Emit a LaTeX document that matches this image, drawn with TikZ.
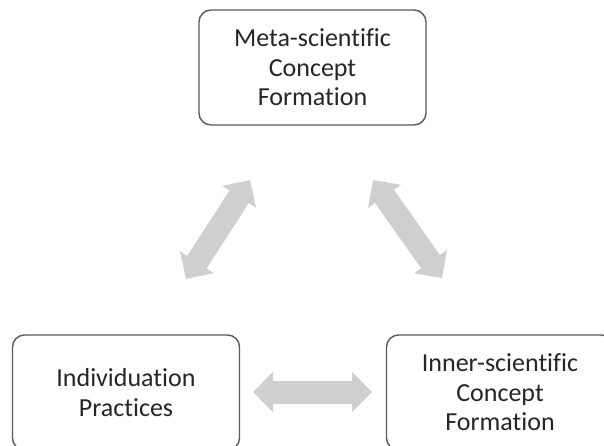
\documentclass[tikz,border=0pt]{standalone}
\usepackage{fontspec}
\setmainfont[Ligatures=NoCommon]{Carlito}
\usepackage{tikz}
\usetikzlibrary{arrows.meta}
\definecolor{boxline}{HTML}{595959}
\definecolor{boxtext}{HTML}{262626}
\definecolor{arrowgray}{HTML}{D0CECE}
\tikzset{
    box/.style={draw=boxline,line width=1.4pt,rounded corners=12pt,fill=white,
        minimum width=227pt,minimum height=115pt,align=center,text=boxtext,
        font=\fontsize{26}{29.5}\selectfont},
    twoway/.style={draw=arrowgray,line width=23pt,
        {Triangle[width=39pt,length=20pt]}-{Triangle[width=39pt,length=20pt]}}
}
\begin{document}
\begin{tikzpicture}[x=1pt,y=-1pt]
    \useasboundingbox (0,0) rectangle (604,445);
    \clip (0,0) rectangle (604,445);
    \node[box] (meta) at (312.5,67.5) {Meta-scientific\\Concept\\Formation};
    \node[box] (indiv) at (126,392.5) {Individuation\\Practices};
    \node[box] (inner) at (500,392.5) {Inner-scientific\\Concept\\Formation};
    % arrow ends
    \coordinate (l1) at (250,180);
    \coordinate (l2) at (186,279);
    \coordinate (r1) at (373,180);
    \coordinate (r2) at (442,278);
    \coordinate (h1) at (253,392);
    \coordinate (h2) at (372,392);
    \draw[twoway] (l2) -- (l1);
    \draw[twoway] (r1) -- (r2);
    \draw[twoway] (h1) -- (h2);
\end{tikzpicture}
\end{document}
